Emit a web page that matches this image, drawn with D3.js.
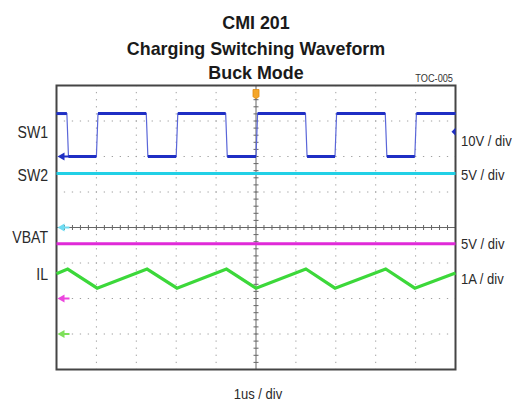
<!DOCTYPE html>
<html>
<head>
<meta charset="utf-8">
<script src="https://cdn.jsdelivr.net/npm/d3@7"></script>
<style>
  body { margin: 0; background: #fff; }
  svg text { font-family: "Liberation Sans", Arial, sans-serif; }
</style>
</head>
<body>
<div id="chart"></div>
<script>
const titleLines = ["CMI 201", "Charging Switching Waveform", "Buck Mode"];
const figureTag = "TOC-005";
const timeLabel = "1us / div";

const channelNames = ["SW1", "SW2", "VBAT", "IL"];
const scaleLabels = ["10V / div", "5V / div", "5V / div", "1A / div"];
const unitsPerDiv = [10, 5, 5, 1];
const groundDiv = [2, 0, -2, -3];          // channel offset, in divisions
const channelColors = ["#1f2fc4", "#22d0e6", "#e02ad8", "#3cd83a"];
const markerColors = ["#1f2fc4", "#6fdcf2", "#ec45de", "#7ee05a"];

// time in divisions (1us / div), values in volts / amps
const sw1Time = [0, 0.26, 0.30, 1.00, 1.04, 2.25, 2.29, 3.00, 3.04, 4.24, 4.28,
                 5.00, 5.04, 6.24, 6.28, 6.98, 7.02, 8.24, 8.28, 8.98, 9.02, 10];
const sw1Volts = [12.1, 12.1, 0, 0, 12.1, 12.1, 0, 0, 12.1, 12.1, 0,
                  0, 12.1, 12.1, 0, 0, 12.1, 12.1, 0, 0, 12.1, 12.1];

const sw2Time = [0, 10];
const sw2Volts = [7.6, 7.6];

const vbatTime = [0, 10];
const vbatVolts = [7.7, 7.7];

const ilTime = [0, 0.28, 1.02, 2.27, 3.02, 4.26, 5.0, 6.25, 6.98, 8.25, 8.98, 10];
const ilAmps = [1.70, 1.83, 1.29, 1.83, 1.29, 1.83, 1.29, 1.83, 1.29, 1.83, 1.29, 1.72];

const triggerTime = 5;
const triggerLevelVolts = 7;               // SW1 trigger level marker on right edge

// ---- drawing ----
const W = 514, H = 404;
const svg = d3.select("#chart").append("svg")
    .attr("width", W)
    .attr("height", H);

const x = d3.scaleLinear().domain([0, 10]).range([56.5, 455.5]);
const y = d3.scaleLinear().domain([-4, 4]).range([369.5, 85.5]);

// channel value -> screen division
function toDiv(ch, v) {
    return groundDiv[ch] + v / unitsPerDiv[ch];
}

// squeeze text horizontally, the original uses a narrow face
function condense(sel, k) {
    sel.each(function () {
        let w = this.getComputedTextLength();
        d3.select(this)
            .attr("textLength", w * k)
            .attr("lengthAdjust", "spacingAndGlyphs");
    });
}

// title
svg.selectAll("text.title")
    .data(titleLines)
    .enter()
    .append("text")
    .attr("class", "title")
    .attr("x", 256)
    .attr("y", (d, i) => [29, 55, 79][i])
    .attr("text-anchor", "middle")
    .style("font-size", "19px")
    .style("font-weight", "bold")
    .style("fill", "#1a1a1a")
    .text(d => d)
    .call(condense, 0.94);

svg.append("text")
    .attr("x", 453)
    .attr("y", 82)
    .attr("text-anchor", "end")
    .style("font-size", "10px")
    .style("fill", "#333")
    .text(figureTag)
    .call(condense, 0.92);

// grid
const grid = svg.append("g");
const dx = x(0.2) - x(0);
const dy = y(0) - y(0.2);

grid.selectAll("line.vgrid")
    .data(d3.range(1, 10).filter(d => d !== 5))
    .enter()
    .append("line")
    .attr("class", "vgrid")
    .attr("x1", d => x(d)).attr("x2", d => x(d))
    .attr("y1", y(4)).attr("y2", y(-4))
    .attr("stroke", "#a0a0a0")
    .attr("stroke-width", 1)
    .attr("stroke-dasharray", `1.3,${dy - 1.3}`)
    .attr("stroke-dashoffset", 0.65);

grid.selectAll("line.hgrid")
    .data(d3.range(-3, 4).filter(d => d !== 0))
    .enter()
    .append("line")
    .attr("class", "hgrid")
    .attr("x1", x(0)).attr("x2", x(10))
    .attr("y1", d => y(d)).attr("y2", d => y(d))
    .attr("stroke", "#a0a0a0")
    .attr("stroke-width", 1)
    .attr("stroke-dasharray", `1.3,${dx - 1.3}`)
    .attr("stroke-dashoffset", 0.65);

// center cross with minor ticks
grid.append("line")
    .attr("x1", x(0)).attr("x2", x(10))
    .attr("y1", y(0)).attr("y2", y(0))
    .attr("stroke", "#666").attr("stroke-width", 1);
grid.append("line")
    .attr("x1", x(5)).attr("x2", x(5))
    .attr("y1", y(4)).attr("y2", y(-4))
    .attr("stroke", "#666").attr("stroke-width", 1);

grid.selectAll("line.xtick")
    .data(d3.range(1, 50))
    .enter()
    .append("line")
    .attr("class", "xtick")
    .attr("x1", d => x(d / 5)).attr("x2", d => x(d / 5))
    .attr("y1", y(0) - 2.5).attr("y2", y(0) + 2.5)
    .attr("stroke", "#666");

grid.selectAll("line.ytick")
    .data(d3.range(-19, 20))
    .enter()
    .append("line")
    .attr("class", "ytick")
    .attr("x1", x(5) - 2.5).attr("x2", x(5) + 2.5)
    .attr("y1", d => y(d / 5)).attr("y2", d => y(d / 5))
    .attr("stroke", "#666");

// frame
svg.append("rect")
    .attr("x", x(0)).attr("y", y(4))
    .attr("width", x(10) - x(0))
    .attr("height", y(-4) - y(4))
    .attr("fill", "none")
    .attr("stroke", "#454545")
    .attr("stroke-width", 2);

// traces
const traces = [
    {ch: 0, t: sw1Time, v: sw1Volts},
    {ch: 1, t: sw2Time, v: sw2Volts},
    {ch: 2, t: vbatTime, v: vbatVolts},
    {ch: 3, t: ilTime, v: ilAmps}
];

const line = d3.line()
    .x(d => x(d[0]))
    .y(d => y(d[1]));

traces.forEach(tr => {
    let pts = tr.t.map((t, i) => [t, toDiv(tr.ch, tr.v[i])]);
    if (tr.ch === 0) {
        // thin edges, thick flat parts
        svg.append("path")
            .attr("d", line(pts))
            .attr("fill", "none")
            .attr("stroke", "#5a66d8")
            .attr("stroke-width", 1.2);
        for (let i = 0; i < pts.length - 1; i++) {
            if (pts[i][1] === pts[i + 1][1]) {
                svg.append("path")
                    .attr("d", line([pts[i], pts[i + 1]]))
                    .attr("fill", "none")
                    .attr("stroke", channelColors[0])
                    .attr("stroke-width", 3);
            }
        }
    } else {
        svg.append("path")
            .attr("d", line(pts))
            .attr("fill", "none")
            .attr("stroke", channelColors[tr.ch])
            .attr("stroke-width", tr.ch === 3 ? 3.2 : 3)
            .attr("stroke-linejoin", "miter");
    }
});

// ground markers on left edge
svg.selectAll("g.gnd")
    .data(channelNames)
    .enter()
    .append("g")
    .attr("class", "gnd")
    .attr("transform", (d, i) => `translate(${x(0) + 1},${y(groundDiv[i])})`)
    .each(function (d, i) {
        let g = d3.select(this);
        g.append("path")
            .attr("d", "M0,0 L7,-4 L7,4 Z")
            .attr("fill", markerColors[i]);
        g.append("line")
            .attr("x1", 6).attr("x2", 12)
            .attr("y1", 0).attr("y2", 0)
            .attr("stroke", markerColors[i])
            .attr("stroke-width", 2);
    });

// trigger level marker (right edge)
svg.append("path")
    .attr("transform", `translate(${x(10)},${y(toDiv(0, triggerLevelVolts))})`)
    .attr("d", "M-4,0 L0,-4 L0,4 Z")
    .attr("fill", channelColors[0]);

// trigger position marker (top)
svg.append("path")
    .attr("transform", `translate(${x(triggerTime)},${y(4)})`)
    .attr("d", "M-3,4 L3,4 L3,11 Q0,15 -3,11 Z")
    .attr("fill", "#f4a62a")
    .attr("stroke", "#e08a10")
    .attr("stroke-width", 0.8);

// channel names on the left
svg.selectAll("text.chname")
    .data(channelNames)
    .enter()
    .append("text")
    .attr("class", "chname")
    .attr("x", 48)
    .attr("y", (d, i) => [138, 181, 243, 280][i])
    .attr("text-anchor", "end")
    .style("font-size", "16px")
    .style("fill", "#2a2a2a")
    .text(d => d)
    .call(condense, 0.88);

// scale labels on the right
svg.selectAll("text.scale")
    .data(scaleLabels)
    .enter()
    .append("text")
    .attr("class", "scale")
    .attr("x", 461)
    .attr("y", (d, i) => [146, 180, 249, 284][i])
    .style("font-size", "14px")
    .style("fill", "#2a2a2a")
    .text(d => d)
    .call(condense, 0.93);

svg.append("text")
    .attr("x", 258)
    .attr("y", 399)
    .attr("text-anchor", "middle")
    .style("font-size", "14px")
    .style("fill", "#2a2a2a")
    .text(timeLabel)
    .call(condense, 0.93);
</script>
</body>
</html>
